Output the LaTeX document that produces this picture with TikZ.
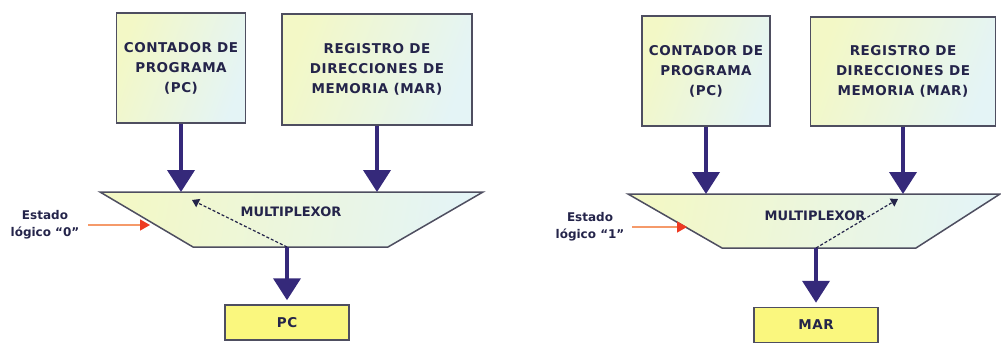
\documentclass[tikz,border=0pt]{standalone}
\usepackage{fontspec}
\newfontfamily\regfont[LetterSpace=4]{DejaVu Sans Bold}
\newfontfamily\muxfont{DejaVu Sans Bold}
\newfontfamily\statefont{DejaVu Sans Bold}
\usetikzlibrary{arrows.meta}

\definecolor{arrowblue}{HTML}{35297A}
\definecolor{inkblue}{HTML}{24244A}
\definecolor{edgegray}{HTML}{4E4E60}
\definecolor{boxcyan}{HTML}{E4F4F6}
\definecolor{boxyellow}{HTML}{F3F8C6}
\definecolor{outyellow}{HTML}{FAF77E}
\definecolor{signalline}{HTML}{F59A6A}
\definecolor{signalred}{HTML}{EE3A22}

\tikzset{
  regbox/.style={draw=edgegray, line width=1.5pt, left color=boxyellow,
    right color=boxcyan, shading angle=70, inner sep=2pt, align=center,
    text=inkblue, font={\regfont\fontsize{13.5}{20}\selectfont}},
  outbox/.style={draw=edgegray, line width=1.5pt, fill=outyellow,
    minimum width=124, minimum height=35, inner sep=0pt, text=inkblue,
    font={\regfont\fontsize{13.5}{16}\selectfont}},
  muxfill/.style={left color=boxyellow, right color=boxcyan, shading angle=80},
  muxedge/.style={draw=edgegray, line width=1.5pt, line join=miter},
  muxlabel/.style={inner sep=0pt, text=inkblue,
    font={\muxfont\fontsize{13}{15}\selectfont}},
  statelabel/.style={inner sep=0pt, align=center, text=inkblue,
    font={\statefont\fontsize{12}{17}\selectfont}},
  flow/.style={draw=arrowblue, line width=4pt,
    -{Triangle[width=27pt,length=22pt]}},
  sel/.style={draw=inkblue, line width=1.2pt, dash pattern=on 3pt off 2pt,
    -{Triangle[width=9pt,length=7pt]}},
  signal/.style={draw=signalline, line width=1.5pt,
    -{Triangle[width=11pt,length=10pt,color=signalred]}}
}

\begin{document}
\begin{tikzpicture}[x=1pt,y=-1pt]
\useasboundingbox (0,0) rectangle (1001,345);

% ---------- logic state 0: the program counter is routed ----------
\node[regbox, minimum width=129, minimum height=110] (pcA) at (181,68)
  {CONTADOR DE\\PROGRAMA\\(PC)};
\node[regbox, minimum width=190, minimum height=111] (marA) at (377,69.5)
  {REGISTRO DE\\DIRECCIONES DE\\MEMORIA (MAR)};

\coordinate (mA-tl) at (100,192);
\coordinate (mA-tr) at (483,192);
\coordinate (mA-br) at (388,247);
\coordinate (mA-bl) at (193,247);
\shade[muxfill] (mA-tl) -- (mA-tr) -- (mA-br) -- (mA-bl) -- cycle;
\draw[muxedge] (mA-tl) -- (mA-tr) -- (mA-br) -- (mA-bl) -- cycle;
\node[muxlabel] (muxA) at (291,212) {MULTIPLEXOR};

\node[outbox] (outA) at (287,322.5) {PC};

\draw[flow] (pcA.south) -- (pcA.south |- mA-tl);
\draw[flow] (marA.south) -- (marA.south |- mA-tl);
\coordinate (mA-out) at (outA.north |- mA-bl);
\draw[flow, shorten >=4pt] (mA-out) -- (outA.north);

\coordinate (selA) at (192,200);
\draw[sel] (mA-out) -- (selA);

\node[statelabel] (stA) at (45,225) {Estado\\lógico “0”};
\coordinate (inA) at (150,225);
\draw[signal] (stA.east -| 88,0) -- (inA);

% ---------- logic state 1: the memory address register is routed ----------
\node[regbox, minimum width=128, minimum height=110] (pcB) at (706,71)
  {CONTADOR DE\\PROGRAMA\\(PC)};
\node[regbox, minimum width=185, minimum height=109] (marB) at (903,71.5)
  {REGISTRO DE\\DIRECCIONES DE\\MEMORIA (MAR)};

\coordinate (mB-tl) at (628,194);
\coordinate (mB-tr) at (1000,194);
\coordinate (mB-br) at (916,248);
\coordinate (mB-bl) at (722,248);
\shade[muxfill] (mB-tl) -- (mB-tr) -- (mB-br) -- (mB-bl) -- cycle;
\draw[muxedge] (mB-tl) -- (mB-tr) -- (mB-br) -- (mB-bl) -- cycle;
\node[muxlabel] (muxB) at (815,216) {MULTIPLEXOR};

\node[outbox] (outB) at (816,325) {MAR};

\draw[flow] (pcB.south) -- (pcB.south |- mB-tl);
\draw[flow] (marB.south) -- (marB.south |- mB-tl);
\coordinate (mB-out) at (outB.north |- mB-bl);
\draw[flow, shorten >=4pt] (mB-out) -- (outB.north);

\coordinate (selB) at (898,199);
\draw[sel] (mB-out) -- (selB);

\node[statelabel] (stB) at (590,227) {Estado\\lógico “1”};
\coordinate (inB) at (687,227);
\draw[signal] (stB.east -| 632,0) -- (inB);
\end{tikzpicture}
\end{document}
